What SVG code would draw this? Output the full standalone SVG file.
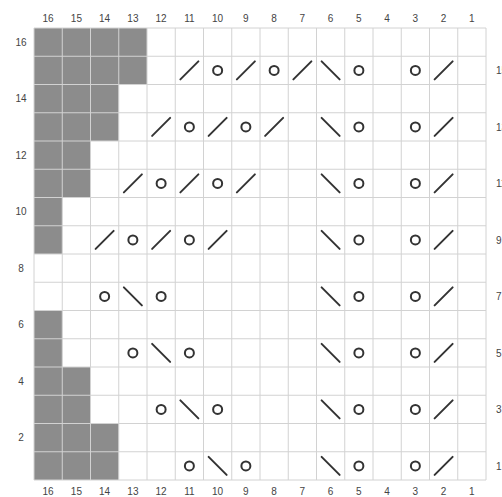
<svg xmlns="http://www.w3.org/2000/svg" xmlns:xlink="http://www.w3.org/1999/xlink" width="502" height="497" viewBox="0 0 502 497">
<style>
.lbl{font-family:"Liberation Sans",Arial,sans-serif;font-size:10px;fill:#444;}
.c{text-anchor:middle;}
.sym{fill:none;stroke:#333;stroke-width:2;stroke-linecap:round;}
.grid{fill:none;stroke:#d2d2d2;stroke-width:1;}
</style>
<defs>
<path id="k2tog" class="sym" d="M-9,9 L9,-9"/>
<path id="ssk" class="sym" d="M-9,-9 L9,9"/>
<circle id="yo" class="sym" r="4.5"/>
</defs>
<rect x="0" y="0" width="502" height="497" fill="#fff"/>
<g id="shaded">
<path fill="#8c8c8c" d="M34,28 H147 V84.5 H118.75 V141 H90.5 V197.5 H62.25 V254 H34 Z M34,310.5 H62.25 V367 H90.5 V423.5 H118.75 V480 H34 Z"/>
</g>
<g id="grid" class="grid">
<path d="M34,28 V480 M62.25,28 V480 M90.5,28 V480 M118.75,28 V480 M147,28 V480 M175.25,28 V480 M203.5,28 V480 M231.75,28 V480 M260,28 V480 M288.25,28 V480 M316.5,28 V480 M344.75,28 V480 M373,28 V480 M401.25,28 V480 M429.5,28 V480 M457.75,28 V480 M486,28 V480"/>
<path d="M34,28 H486 M34,56.25 H486 M34,84.5 H486 M34,112.75 H486 M34,141 H486 M34,169.25 H486 M34,197.5 H486 M34,225.75 H486 M34,254 H486 M34,282.25 H486 M34,310.5 H486 M34,338.75 H486 M34,367 H486 M34,395.25 H486 M34,423.5 H486 M34,451.75 H486 M34,480 H486"/>
</g>
<g id="row15">
<use xlink:href="#k2tog" x="189.375" y="70.375"/>
<use xlink:href="#yo" x="217.625" y="70.375"/>
<use xlink:href="#k2tog" x="245.875" y="70.375"/>
<use xlink:href="#yo" x="274.125" y="70.375"/>
<use xlink:href="#k2tog" x="302.375" y="70.375"/>
<use xlink:href="#ssk" x="330.625" y="70.375"/>
<use xlink:href="#yo" x="358.875" y="70.375"/>
<use xlink:href="#yo" x="415.375" y="70.375"/>
<use xlink:href="#k2tog" x="443.625" y="70.375"/>
</g>
<g id="row13">
<use xlink:href="#k2tog" x="161.125" y="126.875"/>
<use xlink:href="#yo" x="189.375" y="126.875"/>
<use xlink:href="#k2tog" x="217.625" y="126.875"/>
<use xlink:href="#yo" x="245.875" y="126.875"/>
<use xlink:href="#k2tog" x="274.125" y="126.875"/>
<use xlink:href="#ssk" x="330.625" y="126.875"/>
<use xlink:href="#yo" x="358.875" y="126.875"/>
<use xlink:href="#yo" x="415.375" y="126.875"/>
<use xlink:href="#k2tog" x="443.625" y="126.875"/>
</g>
<g id="row11">
<use xlink:href="#k2tog" x="132.875" y="183.375"/>
<use xlink:href="#yo" x="161.125" y="183.375"/>
<use xlink:href="#k2tog" x="189.375" y="183.375"/>
<use xlink:href="#yo" x="217.625" y="183.375"/>
<use xlink:href="#k2tog" x="245.875" y="183.375"/>
<use xlink:href="#ssk" x="330.625" y="183.375"/>
<use xlink:href="#yo" x="358.875" y="183.375"/>
<use xlink:href="#yo" x="415.375" y="183.375"/>
<use xlink:href="#k2tog" x="443.625" y="183.375"/>
</g>
<g id="row9">
<use xlink:href="#k2tog" x="104.625" y="239.875"/>
<use xlink:href="#yo" x="132.875" y="239.875"/>
<use xlink:href="#k2tog" x="161.125" y="239.875"/>
<use xlink:href="#yo" x="189.375" y="239.875"/>
<use xlink:href="#k2tog" x="217.625" y="239.875"/>
<use xlink:href="#ssk" x="330.625" y="239.875"/>
<use xlink:href="#yo" x="358.875" y="239.875"/>
<use xlink:href="#yo" x="415.375" y="239.875"/>
<use xlink:href="#k2tog" x="443.625" y="239.875"/>
</g>
<g id="row7">
<use xlink:href="#yo" x="104.625" y="296.375"/>
<use xlink:href="#ssk" x="132.875" y="296.375"/>
<use xlink:href="#yo" x="161.125" y="296.375"/>
<use xlink:href="#ssk" x="330.625" y="296.375"/>
<use xlink:href="#yo" x="358.875" y="296.375"/>
<use xlink:href="#yo" x="415.375" y="296.375"/>
<use xlink:href="#k2tog" x="443.625" y="296.375"/>
</g>
<g id="row5">
<use xlink:href="#yo" x="132.875" y="352.875"/>
<use xlink:href="#ssk" x="161.125" y="352.875"/>
<use xlink:href="#yo" x="189.375" y="352.875"/>
<use xlink:href="#ssk" x="330.625" y="352.875"/>
<use xlink:href="#yo" x="358.875" y="352.875"/>
<use xlink:href="#yo" x="415.375" y="352.875"/>
<use xlink:href="#k2tog" x="443.625" y="352.875"/>
</g>
<g id="row3">
<use xlink:href="#yo" x="161.125" y="409.375"/>
<use xlink:href="#ssk" x="189.375" y="409.375"/>
<use xlink:href="#yo" x="217.625" y="409.375"/>
<use xlink:href="#ssk" x="330.625" y="409.375"/>
<use xlink:href="#yo" x="358.875" y="409.375"/>
<use xlink:href="#yo" x="415.375" y="409.375"/>
<use xlink:href="#k2tog" x="443.625" y="409.375"/>
</g>
<g id="row1">
<use xlink:href="#yo" x="189.375" y="465.875"/>
<use xlink:href="#ssk" x="217.625" y="465.875"/>
<use xlink:href="#yo" x="245.875" y="465.875"/>
<use xlink:href="#ssk" x="330.625" y="465.875"/>
<use xlink:href="#yo" x="358.875" y="465.875"/>
<use xlink:href="#yo" x="415.375" y="465.875"/>
<use xlink:href="#k2tog" x="443.625" y="465.875"/>
</g>
<g id="col-labels-top" class="lbl c">
<text x="48.1" y="22">16</text><text x="76.4" y="22">15</text><text x="104.6" y="22">14</text><text x="132.9" y="22">13</text>
<text x="161.1" y="22">12</text><text x="189.4" y="22">11</text><text x="217.6" y="22">10</text><text x="245.9" y="22">9</text>
<text x="274.1" y="22">8</text><text x="302.4" y="22">7</text><text x="330.6" y="22">6</text><text x="358.9" y="22">5</text>
<text x="387.1" y="22">4</text><text x="415.4" y="22">3</text><text x="443.6" y="22">2</text><text x="471.9" y="22">1</text>
</g>
<g id="col-labels-bottom" class="lbl c">
<text x="48.1" y="495">16</text><text x="76.4" y="495">15</text><text x="104.6" y="495">14</text><text x="132.9" y="495">13</text>
<text x="161.1" y="495">12</text><text x="189.4" y="495">11</text><text x="217.6" y="495">10</text><text x="245.9" y="495">9</text>
<text x="274.1" y="495">8</text><text x="302.4" y="495">7</text><text x="330.6" y="495">6</text><text x="358.9" y="495">5</text>
<text x="387.1" y="495">4</text><text x="415.4" y="495">3</text><text x="443.6" y="495">2</text><text x="471.9" y="495">1</text>
</g>
<g id="row-labels-left" class="lbl c">
<text x="21" y="45.8">16</text><text x="21" y="102.3">14</text><text x="21" y="158.8">12</text><text x="21" y="215.3">10</text>
<text x="21" y="271.8">8</text><text x="21" y="328.3">6</text><text x="21" y="384.8">4</text><text x="21" y="441.3">2</text>
</g>
<g id="row-labels-right" class="lbl">
<text x="496" y="74">15</text><text x="496" y="130.5">13</text><text x="496" y="187">11</text><text x="496" y="243.5">9</text>
<text x="496" y="300">7</text><text x="496" y="356.5">5</text><text x="496" y="413">3</text><text x="496" y="469.5">1</text>
</g>
</svg>
